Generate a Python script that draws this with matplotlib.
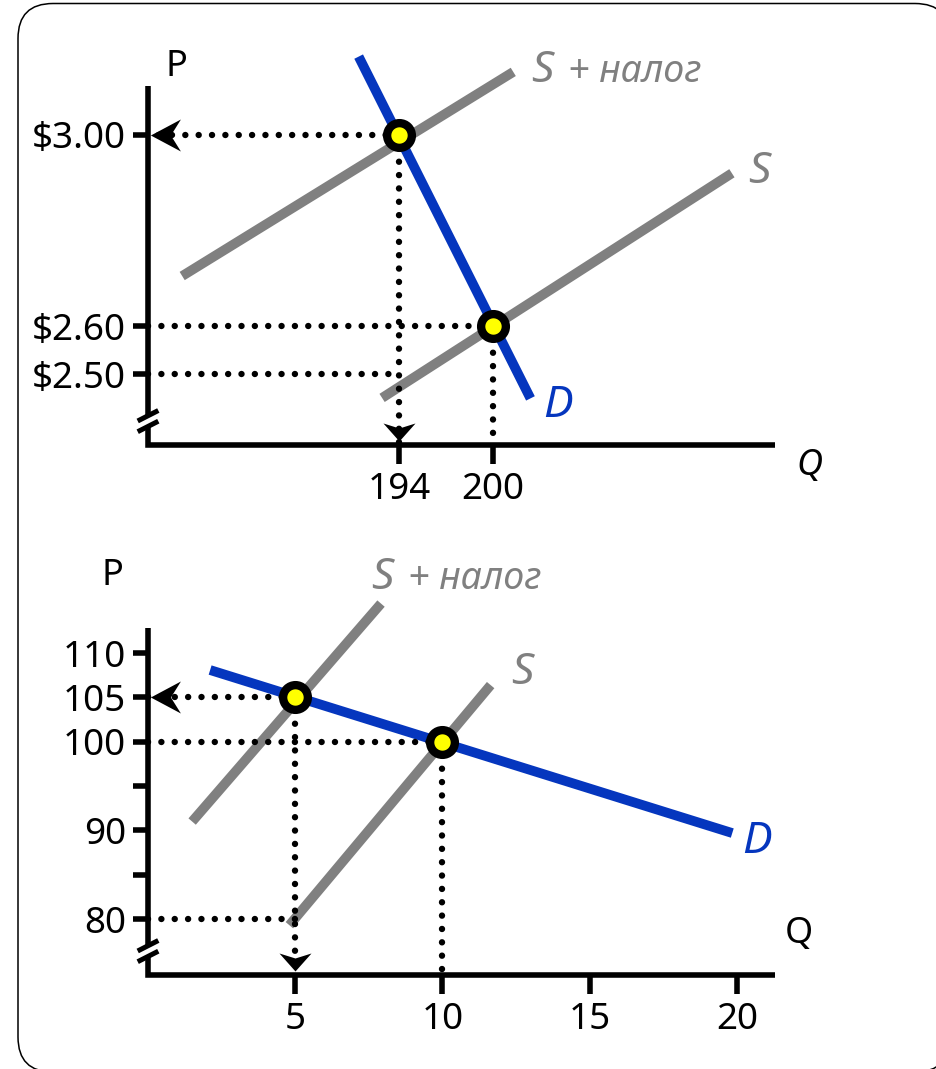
import matplotlib
matplotlib.use('Agg')
import matplotlib.pyplot as plt
from matplotlib.path import Path
from matplotlib.patches import FancyBboxPatch

plt.rcParams['font.family'] = ['Noto Sans', 'DejaVu Sans']

W, H = 936, 1069
GRAY = '#808080'
BLUE = '#0536BE'
YELLOW = '#FFFF00'

# ---- top panel (prices in $) ----
top_q_ticks = [194, 200]
top_p_ticks = [3.00, 2.60, 2.50]
top_p_labels = ['$3.00', '$2.60', '$2.50']
top_s_q = [192.9, 215.3]
top_s_p = [2.45, 2.92]
top_st_q = [180.1, 201.3]
top_st_p = [2.705, 3.132]
top_d_q = [191.4, 202.4]
top_d_p = [3.164, 2.449]
top_eq_q = [194, 200]     # with tax, without tax
top_eq_p = [3.00, 2.60]
top_seller_p = 2.50

# ---- bottom panel ----
bot_q_ticks = [5, 10, 15, 20]
bot_p_ticks = [80, 85, 90, 95, 100, 105, 110]
bot_p_labels = ['80', '', '90', '', '100', '105', '110']
bot_s_q = [4.81, 11.64]
bot_s_p = [79.3, 106.4]
bot_st_q = [1.51, 7.92]
bot_st_p = [91.0, 115.6]
bot_d_q = [2.12, 19.84]
bot_d_p = [108.1, 89.7]
bot_eq_q = [5, 10]
bot_eq_p = [105, 100]
bot_seller_p = 80

fig = plt.figure(figsize=(W / 100, H / 100), dpi=100)

# background frame in pixel units
bg = fig.add_axes([0, 0, 1, 1])
bg.set_xlim(0, W)
bg.set_ylim(H, 0)
bg.axis('off')
bg.add_patch(FancyBboxPatch((18, 3.5), 932, 1068.5,
                            boxstyle='round,pad=0,rounding_size=35',
                            fc='white', ec='black', lw=1.1))
# axis break marks
for y0 in (421, 431.7, 951, 961.7):
    bg.plot([137.7, 158.3], [y0, y0 - 10.5], color='k', lw=3.6,
            solid_capstyle='butt')


def px_rect(l, t, r, b):
    return [l / W, 1 - b / H, (r - l) / W, (b - t) / H]


LEFT = Path([(2.4, 0), (32.4, 16), (22.4, 0), (32.4, -16), (2.4, 0)],
            [Path.MOVETO, Path.LINETO, Path.LINETO, Path.LINETO, Path.CLOSEPOLY])
DOWN = Path([(0, 4), (16, 22), (0, 17), (-16, 22), (0, 4)],
            [Path.MOVETO, Path.LINETO, Path.LINETO, Path.LINETO, Path.CLOSEPOLY])


def make_panel(rect, xlim, ylim, gap_lo, gap_hi):
    ax = fig.add_axes(rect)
    ax.set_xlim(xlim)
    ax.set_ylim(ylim)
    ax.patch.set_alpha(0)
    for s in ax.spines.values():
        s.set_visible(False)
    # L-shaped axes with a break on P axis
    ax.plot([0, 0, 1], [gap_lo, 0, 0], transform=ax.transAxes, color='k',
            lw=4, clip_on=False, solid_joinstyle='miter', solid_capstyle='butt')
    ax.plot([0, 0], [gap_hi, 1], transform=ax.transAxes, color='k',
            lw=4, clip_on=False, solid_capstyle='butt')
    ax.tick_params(axis='y', length=11, width=4, pad=5, labelsize=26.5)
    ax.tick_params(axis='x', length=13.5, width=4, pad=6, labelsize=26.5)
    return ax


def dots(ax, xs, ys):
    ax.plot(xs, ys, color='k', lw=4.6, ls=(0, (0.01, 2.08)),
            dash_capstyle='round', clip_on=False, zorder=4)


def curve(ax, q, p, color):
    ax.plot(q, p, color=color, lw=7, solid_capstyle='butt', clip_on=False, zorder=3)


def draw(ax, s_q, s_p, st_q, st_p, d_q, d_p, eq_q, eq_p, seller_p):
    x0 = ax.get_xlim()[0]
    y0 = ax.get_ylim()[0]
    curve(ax, st_q, st_p, GRAY)
    curve(ax, s_q, s_p, GRAY)
    curve(ax, d_q, d_p, BLUE)
    dots(ax, [eq_q[0], x0], [eq_p[0], eq_p[0]])
    dots(ax, [eq_q[0], eq_q[0]], [eq_p[0], y0])
    dots(ax, [x0, eq_q[1]], [eq_p[1], eq_p[1]])
    dots(ax, [eq_q[1], eq_q[1]], [eq_p[1], y0])
    dots(ax, [x0, eq_q[0]], [seller_p, seller_p])
    ax.plot([x0], [eq_p[0]], marker=LEFT, ms=46.7, color='k', mew=0,
            ls='none', clip_on=False, zorder=5)
    ax.plot([eq_q[0]], [y0], marker=DOWN, ms=31.7, color='k', mew=0,
            ls='none', clip_on=False, zorder=5)
    ax.plot(eq_q, eq_p, 'o', ms=17.8, mfc=YELLOW, mec='k', mew=6,
            ls='none', clip_on=False, zorder=6)


# ---- top ----
ax1 = make_panel(px_rect(148.3, 86, 774.7, 445), (177.93, 218.04), (2.3515, 3.1025),
                 0.051, 0.082)
draw(ax1, top_s_q, top_s_p, top_st_q, top_st_p, top_d_q, top_d_p,
     top_eq_q, top_eq_p, top_seller_p)
ax1.set_xticks(top_q_ticks)
ax1.set_xticklabels([str(v) for v in top_q_ticks])
ax1.set_yticks(top_p_ticks)
ax1.set_yticklabels(top_p_labels)
ax1.text(202.44, 3.111, 'S', fontsize=32, style='italic', color=GRAY, va='baseline')
ax1.text(204.81, 3.111, '+ налог', fontsize=27, style='italic', color=GRAY, va='baseline')
ax1.text(216.35, 2.899, 'S', fontsize=32, style='italic', color=GRAY, va='baseline')
ax1.text(203.2, 2.411, 'D', fontsize=32, style='italic', color=BLUE, va='baseline')
ax1.text(219.45, 2.289, 'Q', fontsize=26, style='italic', color='k', va='baseline')
ax1.text(179.0, 3.123, 'P', fontsize=26, color='k', va='baseline')

# ---- bottom ----
ax2 = make_panel(px_rect(148.3, 628.3, 774.7, 975), (0.022, 21.28), (73.68, 112.81),
                 0.053, 0.085)
draw(ax2, bot_s_q, bot_s_p, bot_st_q, bot_st_p, bot_d_q, bot_d_p,
     bot_eq_q, bot_eq_p, bot_seller_p)
ax2.set_xticks(bot_q_ticks)
ax2.set_xticklabels([str(v) for v in bot_q_ticks])
ax2.set_yticks(bot_p_ticks)
ax2.set_yticklabels(bot_p_labels)
ax2.text(7.58, 117.2, 'S', fontsize=32, style='italic', color=GRAY, va='baseline')
ax2.text(8.82, 117.2, '+ налог', fontsize=27, style='italic', color=GRAY, va='baseline')
ax2.text(12.32, 106.52, 'S', fontsize=32, style='italic', color=GRAY, va='baseline')
ax2.text(20.18, 87.41, 'D', fontsize=32, style='italic', color=BLUE, va='baseline')
ax2.text(21.62, 77.26, 'Q', fontsize=26, color='k', va='baseline')
ax2.text(-1.58, 117.7, 'P', fontsize=26, color='k', va='baseline')

fig.savefig('out.png', dpi=100)
